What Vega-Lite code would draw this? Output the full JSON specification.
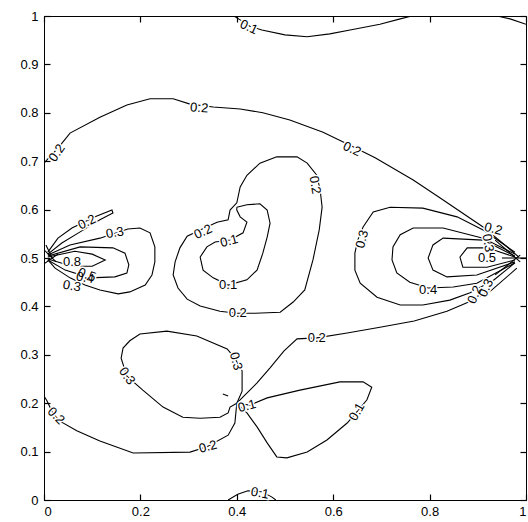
{
  "$schema": "https://vega.github.io/schema/vega-lite/v6.json",
  "width": 482,
  "height": 484,
  "autosize": "none",
  "padding": {"left": 44, "top": 16, "right": 2, "bottom": 22},
  "background": "white",
  "config": {
    "view": {"stroke": "black", "strokeWidth": 1},
    "axis": {"grid": false, "title": null, "labelColor": "black", "labelFont": "Liberation Sans", "labelFontSize": 13, "domainColor": "black"}
  },
  "datasets": {
    "lines": [
      {"c":"A1","i":0,"x":0.394,"y":1},{"c":"A1","i":1,"x":0.407,"y":0.992},{"c":"A1","i":2,"x":0.427,"y":0.979},{"c":"A1","i":3,"x":0.452,"y":0.971},{"c":"A1","i":4,"x":0.5,"y":0.961},{"c":"A1","i":5,"x":0.546,"y":0.957},{"c":"A1","i":6,"x":0.593,"y":0.963},{"c":"A1","i":7,"x":0.635,"y":0.971},{"c":"A1","i":8,"x":0.697,"y":0.983},{"c":"A1","i":9,"x":0.739,"y":0.994},{"c":"A1","i":10,"x":0.763,"y":1},
      {"c":"A2","i":0,"x":0.94,"y":1},{"c":"A2","i":1,"x":0.967,"y":0.994},{"c":"A2","i":2,"x":1,"y":0.983},
      {"c":"B","i":0,"x":0,"y":0.696},{"c":"B","i":1,"x":0.008,"y":0.705},{"c":"B","i":2,"x":0.029,"y":0.727},{"c":"B","i":3,"x":0.054,"y":0.758},{"c":"B","i":4,"x":0.116,"y":0.791},{"c":"B","i":5,"x":0.172,"y":0.816},{"c":"B","i":6,"x":0.22,"y":0.829},{"c":"B","i":7,"x":0.268,"y":0.829},{"c":"B","i":8,"x":0.303,"y":0.818},{"c":"B","i":9,"x":0.351,"y":0.812},{"c":"B","i":10,"x":0.407,"y":0.808},{"c":"B","i":11,"x":0.454,"y":0.8},{"c":"B","i":12,"x":0.51,"y":0.785},{"c":"B","i":13,"x":0.579,"y":0.76},{"c":"B","i":14,"x":0.639,"y":0.731},{"c":"B","i":15,"x":0.687,"y":0.707},{"c":"B","i":16,"x":0.766,"y":0.661},{"c":"B","i":17,"x":0.822,"y":0.624},{"c":"B","i":18,"x":0.911,"y":0.564},{"c":"B","i":19,"x":0.956,"y":0.527},{"c":"B","i":20,"x":0.985,"y":0.502},
      {"c":"C","i":0,"x":0.483,"y":0.709},{"c":"C","i":1,"x":0.525,"y":0.709},{"c":"C","i":2,"x":0.546,"y":0.696},{"c":"C","i":3,"x":0.566,"y":0.671},{"c":"C","i":4,"x":0.573,"y":0.64},{"c":"C","i":5,"x":0.577,"y":0.605},{"c":"C","i":6,"x":0.571,"y":0.558},{"c":"C","i":7,"x":0.558,"y":0.496},{"c":"C","i":8,"x":0.541,"y":0.434},{"c":"C","i":9,"x":0.517,"y":0.409},{"c":"C","i":10,"x":0.49,"y":0.388},{"c":"C","i":11,"x":0.438,"y":0.386},{"c":"C","i":12,"x":0.4,"y":0.386},{"c":"C","i":13,"x":0.365,"y":0.39},{"c":"C","i":14,"x":0.324,"y":0.401},{"c":"C","i":15,"x":0.297,"y":0.415},{"c":"C","i":16,"x":0.278,"y":0.438},{"c":"C","i":17,"x":0.268,"y":0.465},{"c":"C","i":18,"x":0.272,"y":0.492},{"c":"C","i":19,"x":0.282,"y":0.521},{"c":"C","i":20,"x":0.297,"y":0.545},{"c":"C","i":21,"x":0.324,"y":0.558},{"c":"C","i":22,"x":0.359,"y":0.574},{"c":"C","i":23,"x":0.382,"y":0.579},{"c":"C","i":24,"x":0.386,"y":0.599},{"c":"C","i":25,"x":0.4,"y":0.614},{"c":"C","i":26,"x":0.407,"y":0.647},{"c":"C","i":27,"x":0.421,"y":0.671},{"c":"C","i":28,"x":0.448,"y":0.696},{"c":"C","i":29,"x":0.483,"y":0.709},
      {"c":"D","i":0,"x":0.4,"y":0.605},{"c":"D","i":1,"x":0.421,"y":0.61},{"c":"D","i":2,"x":0.448,"y":0.612},{"c":"D","i":3,"x":0.463,"y":0.599},{"c":"D","i":4,"x":0.469,"y":0.572},{"c":"D","i":5,"x":0.463,"y":0.543},{"c":"D","i":6,"x":0.454,"y":0.51},{"c":"D","i":7,"x":0.442,"y":0.475},{"c":"D","i":8,"x":0.421,"y":0.455},{"c":"D","i":9,"x":0.382,"y":0.444},{"c":"D","i":10,"x":0.351,"y":0.459},{"c":"D","i":11,"x":0.33,"y":0.475},{"c":"D","i":12,"x":0.324,"y":0.502},{"c":"D","i":13,"x":0.338,"y":0.523},{"c":"D","i":14,"x":0.355,"y":0.533},{"c":"D","i":15,"x":0.386,"y":0.537},{"c":"D","i":16,"x":0.413,"y":0.552},{"c":"D","i":17,"x":0.421,"y":0.574},{"c":"D","i":18,"x":0.407,"y":0.585},{"c":"D","i":19,"x":0.4,"y":0.599},{"c":"D","i":20,"x":0.4,"y":0.605},
      {"c":"E","i":0,"x":0.008,"y":0.512},{"c":"E","i":1,"x":0.029,"y":0.541},{"c":"E","i":2,"x":0.058,"y":0.562},{"c":"E","i":3,"x":0.106,"y":0.585},{"c":"E","i":4,"x":0.141,"y":0.599},{"c":"E","i":5,"x":0.143,"y":0.593},{"c":"E","i":6,"x":0.116,"y":0.579},{"c":"E","i":7,"x":0.075,"y":0.554},{"c":"E","i":8,"x":0.037,"y":0.531},{"c":"E","i":9,"x":0.008,"y":0.508},
      {"c":"F","i":0,"x":0.008,"y":0.506},{"c":"F","i":1,"x":0.054,"y":0.527},{"c":"F","i":2,"x":0.116,"y":0.541},{"c":"F","i":3,"x":0.174,"y":0.56},{"c":"F","i":4,"x":0.199,"y":0.562},{"c":"F","i":5,"x":0.22,"y":0.552},{"c":"F","i":6,"x":0.23,"y":0.523},{"c":"F","i":7,"x":0.23,"y":0.492},{"c":"F","i":8,"x":0.224,"y":0.465},{"c":"F","i":9,"x":0.21,"y":0.444},{"c":"F","i":10,"x":0.178,"y":0.43},{"c":"F","i":11,"x":0.154,"y":0.426},{"c":"F","i":12,"x":0.116,"y":0.434},{"c":"F","i":13,"x":0.085,"y":0.444},{"c":"F","i":14,"x":0.054,"y":0.459},{"c":"F","i":15,"x":0.023,"y":0.479},{"c":"F","i":16,"x":0.008,"y":0.496},
      {"c":"G","i":0,"x":0.008,"y":0.504},{"c":"G","i":1,"x":0.075,"y":0.523},{"c":"G","i":2,"x":0.143,"y":0.521},{"c":"G","i":3,"x":0.168,"y":0.51},{"c":"G","i":4,"x":0.176,"y":0.486},{"c":"G","i":5,"x":0.172,"y":0.469},{"c":"G","i":6,"x":0.147,"y":0.461},{"c":"G","i":7,"x":0.095,"y":0.459},{"c":"G","i":8,"x":0.044,"y":0.475},{"c":"G","i":9,"x":0.008,"y":0.496},
      {"c":"H","i":0,"x":0.008,"y":0.502},{"c":"H","i":1,"x":0.064,"y":0.514},{"c":"H","i":2,"x":0.1,"y":0.508},{"c":"H","i":3,"x":0.127,"y":0.496},{"c":"H","i":4,"x":0.1,"y":0.483},{"c":"H","i":5,"x":0.058,"y":0.483},{"c":"H","i":6,"x":0.008,"y":0.498},
      {"c":"L1","i":0,"x":0,"y":0.517},{"c":"L1","i":1,"x":0.025,"y":0.492},
      {"c":"L2","i":0,"x":0,"y":0.488},{"c":"L2","i":1,"x":0.029,"y":0.508},
      {"c":"L3","i":0,"x":0.004,"y":0.527},{"c":"L3","i":1,"x":0.017,"y":0.5},
      {"c":"I","i":0,"x":0.977,"y":0.512},{"c":"I","i":1,"x":0.911,"y":0.558},{"c":"I","i":2,"x":0.857,"y":0.585},{"c":"I","i":3,"x":0.786,"y":0.603},{"c":"I","i":4,"x":0.718,"y":0.605},{"c":"I","i":5,"x":0.683,"y":0.595},{"c":"I","i":6,"x":0.662,"y":0.564},{"c":"I","i":7,"x":0.651,"y":0.537},{"c":"I","i":8,"x":0.645,"y":0.51},{"c":"I","i":9,"x":0.645,"y":0.475},{"c":"I","i":10,"x":0.656,"y":0.448},{"c":"I","i":11,"x":0.691,"y":0.419},{"c":"I","i":12,"x":0.739,"y":0.403},{"c":"I","i":13,"x":0.786,"y":0.403},{"c":"I","i":14,"x":0.842,"y":0.413},{"c":"I","i":15,"x":0.884,"y":0.428},{"c":"I","i":16,"x":0.934,"y":0.455},{"c":"I","i":17,"x":0.977,"y":0.49},
      {"c":"J","i":0,"x":0.977,"y":0.508},{"c":"J","i":1,"x":0.911,"y":0.541},{"c":"J","i":2,"x":0.828,"y":0.562},{"c":"J","i":3,"x":0.766,"y":0.562},{"c":"J","i":4,"x":0.739,"y":0.548},{"c":"J","i":5,"x":0.724,"y":0.523},{"c":"J","i":6,"x":0.722,"y":0.496},{"c":"J","i":7,"x":0.732,"y":0.469},{"c":"J","i":8,"x":0.759,"y":0.45},{"c":"J","i":9,"x":0.797,"y":0.438},{"c":"J","i":10,"x":0.849,"y":0.44},{"c":"J","i":11,"x":0.898,"y":0.448},{"c":"J","i":12,"x":0.977,"y":0.49},
      {"c":"K","i":0,"x":0.977,"y":0.504},{"c":"K","i":1,"x":0.911,"y":0.537},{"c":"K","i":2,"x":0.828,"y":0.541},{"c":"K","i":3,"x":0.807,"y":0.527},{"c":"K","i":4,"x":0.797,"y":0.5},{"c":"K","i":5,"x":0.807,"y":0.475},{"c":"K","i":6,"x":0.836,"y":0.461},{"c":"K","i":7,"x":0.898,"y":0.465},{"c":"K","i":8,"x":0.977,"y":0.492},
      {"c":"LL","i":0,"x":0.977,"y":0.502},{"c":"LL","i":1,"x":0.919,"y":0.521},{"c":"LL","i":2,"x":0.878,"y":0.521},{"c":"LL","i":3,"x":0.863,"y":0.502},{"c":"LL","i":4,"x":0.869,"y":0.481},{"c":"LL","i":5,"x":0.919,"y":0.481},{"c":"LL","i":6,"x":0.977,"y":0.496},
      {"c":"R1","i":0,"x":0.936,"y":0.537},{"c":"R1","i":1,"x":0.988,"y":0.492},
      {"c":"R2","i":0,"x":0.936,"y":0.465},{"c":"R2","i":1,"x":0.988,"y":0.506},
      {"c":"R3","i":0,"x":0.95,"y":0.5},{"c":"R3","i":1,"x":1,"y":0.5},
      {"c":"M","i":0,"x":0.981,"y":0.479},{"c":"M","i":1,"x":0.927,"y":0.432},{"c":"M","i":2,"x":0.886,"y":0.411},{"c":"M","i":3,"x":0.836,"y":0.39},{"c":"M","i":4,"x":0.768,"y":0.37},{"c":"M","i":5,"x":0.697,"y":0.357},{"c":"M","i":6,"x":0.629,"y":0.345},{"c":"M","i":7,"x":0.566,"y":0.335},{"c":"M","i":8,"x":0.525,"y":0.333},{"c":"M","i":9,"x":0.498,"y":0.308},{"c":"M","i":10,"x":0.469,"y":0.273},{"c":"M","i":11,"x":0.442,"y":0.242},{"c":"M","i":12,"x":0.413,"y":0.213},{"c":"M","i":13,"x":0.4,"y":0.2},{"c":"M","i":14,"x":0.396,"y":0.159},{"c":"M","i":15,"x":0.382,"y":0.134},{"c":"M","i":16,"x":0.338,"y":0.11},{"c":"M","i":17,"x":0.303,"y":0.099},{"c":"M","i":18,"x":0.185,"y":0.097},{"c":"M","i":19,"x":0.116,"y":0.122},{"c":"M","i":20,"x":0.068,"y":0.143},{"c":"M","i":21,"x":0.033,"y":0.163},{"c":"M","i":22,"x":0.019,"y":0.178},{"c":"M","i":23,"x":0.006,"y":0.205},{"c":"M","i":24,"x":0,"y":0.215},
      {"c":"N","i":0,"x":0.4,"y":0.2},{"c":"N","i":1,"x":0.411,"y":0.225},{"c":"N","i":2,"x":0.411,"y":0.267},{"c":"N","i":3,"x":0.396,"y":0.293},{"c":"N","i":4,"x":0.38,"y":0.312},{"c":"N","i":5,"x":0.317,"y":0.339},{"c":"N","i":6,"x":0.255,"y":0.349},{"c":"N","i":7,"x":0.199,"y":0.343},{"c":"N","i":8,"x":0.178,"y":0.329},{"c":"N","i":9,"x":0.164,"y":0.314},{"c":"N","i":10,"x":0.16,"y":0.293},{"c":"N","i":11,"x":0.172,"y":0.256},{"c":"N","i":12,"x":0.205,"y":0.227},{"c":"N","i":13,"x":0.247,"y":0.192},{"c":"N","i":14,"x":0.288,"y":0.171},{"c":"N","i":15,"x":0.324,"y":0.169},{"c":"N","i":16,"x":0.365,"y":0.171},{"c":"N","i":17,"x":0.382,"y":0.18},{"c":"N","i":18,"x":0.386,"y":0.192},{"c":"N","i":19,"x":0.4,"y":0.2},
      {"c":"O","i":0,"x":0.4,"y":0.2},{"c":"O","i":1,"x":0.427,"y":0.196},{"c":"O","i":2,"x":0.463,"y":0.211},{"c":"O","i":3,"x":0.531,"y":0.227},{"c":"O","i":4,"x":0.614,"y":0.244},{"c":"O","i":5,"x":0.662,"y":0.244},{"c":"O","i":6,"x":0.68,"y":0.233},{"c":"O","i":7,"x":0.67,"y":0.207},{"c":"O","i":8,"x":0.649,"y":0.182},{"c":"O","i":9,"x":0.629,"y":0.159},{"c":"O","i":10,"x":0.587,"y":0.124},{"c":"O","i":11,"x":0.546,"y":0.099},{"c":"O","i":12,"x":0.504,"y":0.087},{"c":"O","i":13,"x":0.483,"y":0.089},{"c":"O","i":14,"x":0.463,"y":0.118},{"c":"O","i":15,"x":0.442,"y":0.151},{"c":"O","i":16,"x":0.421,"y":0.18},{"c":"O","i":17,"x":0.4,"y":0.2},
      {"c":"P","i":0,"x":0.382,"y":0},{"c":"P","i":1,"x":0.402,"y":0.012},{"c":"P","i":2,"x":0.423,"y":0.019},{"c":"P","i":3,"x":0.452,"y":0.017},{"c":"P","i":4,"x":0.473,"y":0.006},{"c":"P","i":5,"x":0.481,"y":0},
      {"c":"Q","i":0,"x":0.371,"y":0.219},{"c":"Q","i":1,"x":0.382,"y":0.215}
    ],
    "labels": [
      {"t":"0.1","x":0.425,"y":0.977,"a":25},
      {"t":"0.2","x":0.027,"y":0.717,"a":-55},
      {"t":"0.2","x":0.322,"y":0.81,"a":5},
      {"t":"0.2","x":0.639,"y":0.725,"a":25},
      {"t":"0.2","x":0.562,"y":0.651,"a":80},
      {"t":"0.2","x":0.33,"y":0.554,"a":-25},
      {"t":"0.1","x":0.384,"y":0.535,"a":-15},
      {"t":"0.1","x":0.382,"y":0.444,"a":0},
      {"t":"0.2","x":0.402,"y":0.386,"a":0},
      {"t":"0.3","x":0.66,"y":0.539,"a":-75},
      {"t":"0.4","x":0.797,"y":0.434,"a":0},
      {"t":"0.2","x":0.566,"y":0.335,"a":0},
      {"t":"0.3","x":0.398,"y":0.287,"a":75},
      {"t":"0.3","x":0.172,"y":0.256,"a":55},
      {"t":"0.1","x":0.421,"y":0.194,"a":-15},
      {"t":"0.1","x":0.649,"y":0.182,"a":-60},
      {"t":"0.2","x":0.34,"y":0.11,"a":-15},
      {"t":"0.2","x":0.025,"y":0.174,"a":45},
      {"t":"0.1","x":0.448,"y":0.014,"a":10},
      {"t":"0.2","x":0.089,"y":0.574,"a":-25},
      {"t":"0.3","x":0.147,"y":0.552,"a":-10},
      {"t":"0.8","x":0.058,"y":0.492,"a":0},
      {"t":"0.5","x":0.089,"y":0.465,"a":20},
      {"t":"0.4","x":0.085,"y":0.459,"a":10},
      {"t":"0.3","x":0.058,"y":0.442,"a":10},
      {"t":"0.2","x":0.932,"y":0.56,"a":15},
      {"t":"0.3","x":0.921,"y":0.531,"a":80},
      {"t":"0.5","x":0.919,"y":0.5,"a":0},
      {"t":"0.2","x":0.894,"y":0.424,"a":-65},
      {"t":"0.3","x":0.917,"y":0.438,"a":-65}
    ]
  },
  "layer": [
    {
      "data": {"name": "lines"},
      "mark": {"type": "line", "color": "black", "strokeWidth": 1.1, "clip": true},
      "encoding": {
        "x": {"field": "x", "type": "quantitative", "scale": {"domain": [0, 1], "nice": false, "zero": false},
              "axis": {"orient": "bottom", "values": [0, 0.2, 0.4, 0.6, 0.8, 1], "format": "~g", "tickSize": -6, "tickColor": "black", "tickWidth": 1.2, "labelPadding": 11}},
        "y": {"field": "y", "type": "quantitative", "scale": {"domain": [0, 1], "nice": false, "zero": false},
              "axis": {"orient": "left", "values": [0, 0.1, 0.2, 0.3, 0.4, 0.5, 0.6, 0.7, 0.8, 0.9, 1], "format": "~g", "tickSize": -6, "tickColor": "black", "tickWidth": 1.2, "labelPadding": 12}},
        "detail": {"field": "c"},
        "order": {"field": "i", "type": "quantitative"}
      }
    },
    {
      "data": {"name": "labels"},
      "mark": {"type": "text", "font": "Liberation Sans", "fontSize": 13, "stroke": "white", "strokeWidth": 3, "fill": "white", "align": "center", "baseline": "middle"},
      "encoding": {
        "x": {"field": "x", "type": "quantitative", "axis": {"orient": "top", "values": [0, 0.2, 0.4, 0.6, 0.8, 1], "labels": false, "tickSize": 6, "offset": -6, "tickColor": "black", "tickWidth": 1.2, "domain": false}},
        "y": {"field": "y", "type": "quantitative", "axis": {"orient": "right", "values": [0, 0.1, 0.2, 0.3, 0.4, 0.5, 0.6, 0.7, 0.8, 0.9, 1], "labels": false, "tickSize": 6, "offset": -6, "tickColor": "black", "tickWidth": 1.2, "domain": false}},
        "text": {"field": "t"},
        "angle": {"field": "a", "type": "quantitative", "scale": null}
      }
    },
    {
      "data": {"name": "labels"},
      "mark": {"type": "text", "font": "Liberation Sans", "fontSize": 13, "fill": "black", "align": "center", "baseline": "middle"},
      "encoding": {
        "x": {"field": "x", "type": "quantitative", "axis": null},
        "y": {"field": "y", "type": "quantitative", "axis": null},
        "text": {"field": "t"},
        "angle": {"field": "a", "type": "quantitative", "scale": null}
      }
    }
  ],
  "resolve": {"axis": {"x": "independent", "y": "independent"}}
}
